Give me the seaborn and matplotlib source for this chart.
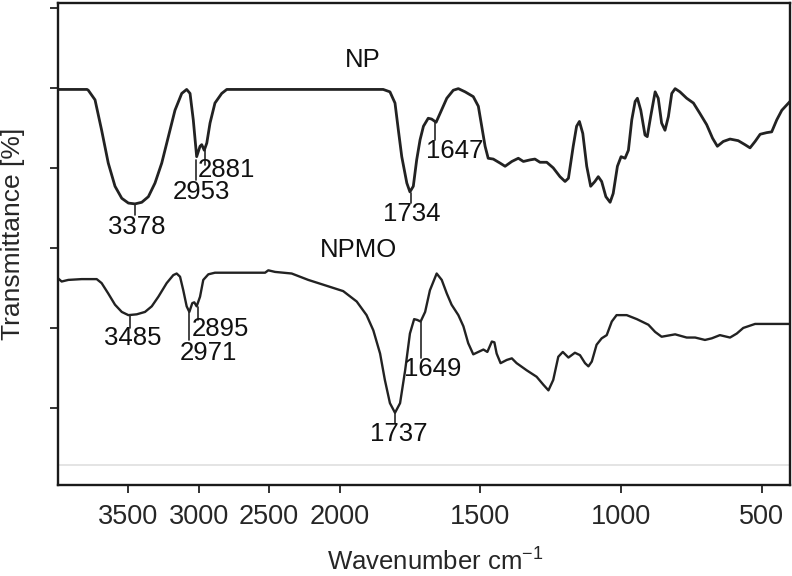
import numpy as np
import pandas as pd
import seaborn as sns
import matplotlib.pyplot as plt

# FTIR spectra (wavenumber cm-1, transmittance in arbitrary offset units)
np_wavenumber = [4000, 3794, 3785, 3737, 3690, 3643, 3595, 3547, 3500, 3453, 3405, 3358,
                 3311, 3263, 3216, 3169, 3121, 3086, 3062, 3039, 3015, 2991, 2979, 2961,
                 2943, 2920, 2885, 2837, 2801, 2600, 2400, 2200, 2000, 1845, 1821, 1803,
                 1791, 1779, 1761, 1750, 1738, 1726, 1714, 1702, 1685, 1673, 1657, 1643,
                 1619, 1596, 1578, 1554, 1525, 1507, 1495, 1483, 1472, 1454, 1430, 1412,
                 1388, 1365, 1347, 1323, 1306, 1288, 1264, 1241, 1217, 1199, 1187, 1170,
                 1158, 1148, 1136, 1122, 1108, 1093, 1081, 1069, 1054, 1039, 1028, 1013,
                 1000, 986, 974, 962, 950, 942, 930, 915, 907, 895, 879, 868, 856, 844,
                 832, 820, 808, 791, 767, 743, 720, 696, 675, 658, 637, 613, 584, 560,
                 542, 524, 506, 483, 465, 447, 429, 400]
np_transmittance = [4.98, 4.98, 4.97, 4.85, 4.47, 4.06, 3.77, 3.62, 3.56, 3.55, 3.57, 3.64,
                    3.81, 4.06, 4.39, 4.72, 4.93, 4.98, 4.93, 4.60, 4.14, 4.27, 4.29, 4.22,
                    4.31, 4.56, 4.81, 4.93, 4.98, 4.98, 4.98, 4.98, 4.98, 4.98, 4.95, 4.81,
                    4.47, 4.14, 3.81, 3.70, 3.77, 4.10, 4.35, 4.52, 4.62, 4.61, 4.57, 4.68,
                    4.87, 4.97, 4.99, 4.95, 4.89, 4.77, 4.52, 4.27, 4.12, 4.11, 4.06, 4.02,
                    4.08, 4.12, 4.08, 4.10, 4.11, 4.07, 4.07, 4.00, 3.89, 3.83, 3.87, 4.27,
                    4.52, 4.58, 4.43, 4.02, 3.77, 3.83, 3.89, 3.83, 3.64, 3.57, 3.68, 4.02,
                    4.14, 4.12, 4.22, 4.60, 4.83, 4.87, 4.72, 4.41, 4.39, 4.64, 4.95, 4.87,
                    4.56, 4.47, 4.64, 4.93, 4.99, 4.95, 4.87, 4.81, 4.68, 4.54, 4.37, 4.27,
                    4.33, 4.36, 4.34, 4.29, 4.25, 4.33, 4.42, 4.44, 4.45, 4.60, 4.72, 4.83]

npmo_wavenumber = [4000, 3974, 3927, 3832, 3725, 3690, 3643, 3595, 3547, 3500, 3441, 3382,
                   3334, 3287, 3228, 3181, 3157, 3133, 3110, 3086, 3067, 3046, 3032, 3015,
                   2991, 2968, 2932, 2885, 2700, 2529, 2506, 2458, 2340, 2222, 2080, 1987,
                   1939, 1904, 1880, 1856, 1839, 1821, 1803, 1785, 1767, 1750, 1735, 1724,
                   1712, 1696, 1679, 1655, 1637, 1619, 1602, 1578, 1560, 1543, 1525, 1507,
                   1489, 1475, 1459, 1450, 1442, 1428, 1406, 1388, 1371, 1335, 1300, 1276,
                   1258, 1241, 1223, 1207, 1187, 1164, 1146, 1128, 1116, 1104, 1087, 1069,
                   1051, 1033, 1016, 980, 944, 903, 879, 856, 808, 767, 737, 702, 678, 649,
                   613, 589, 566, 524, 406, 400]
npmo_transmittance = [2.62, 2.58, 2.60, 2.61, 2.61, 2.56, 2.43, 2.29, 2.20, 2.16, 2.17, 2.20,
                      2.27, 2.39, 2.56, 2.66, 2.68, 2.64, 2.47, 2.27, 2.20, 2.31, 2.32, 2.27,
                      2.39, 2.60, 2.67, 2.69, 2.69, 2.69, 2.72, 2.70, 2.68, 2.60, 2.52, 2.46,
                      2.33, 2.16, 1.97, 1.68, 1.35, 1.06, 0.94, 1.06, 1.47, 1.93, 2.11, 2.10,
                      2.08, 2.20, 2.47, 2.68, 2.60, 2.43, 2.29, 2.16, 2.02, 1.81, 1.67, 1.70,
                      1.73, 1.70, 1.83, 1.82, 1.68, 1.56, 1.60, 1.62, 1.56, 1.47, 1.39, 1.29,
                      1.22, 1.35, 1.64, 1.70, 1.63, 1.69, 1.66, 1.56, 1.52, 1.58, 1.79, 1.87,
                      1.91, 2.08, 2.16, 2.16, 2.11, 2.04, 1.95, 1.89, 1.92, 1.88, 1.88, 1.85,
                      1.87, 1.91, 1.88, 1.93, 2.00, 2.05, 2.05, 2.05]

# peak labels: text, marker x, marker top, marker bottom, label x, label y
peak_labels = [
    ("3378", 3453, 3.55, 3.41, 3439, 3.26),
    ("2953", 3019, 4.10, 3.85, 2984, 3.70),
    ("2881", 2956, 4.22, 4.04, 2806, 3.97),
    ("1734", 1746, 3.69, 3.56, 1743, 3.42),
    ("1647", 1661, 4.57, 4.35, 1590, 4.21),
    ("3485", 3488, 2.16, 2.00, 3467, 1.87),
    ("2971", 3069, 2.20, 1.85, 2934, 1.69),
    ("2895", 3005, 2.26, 2.10, 2849, 1.99),
    ("1649", 1711, 2.07, 1.62, 1668, 1.49),
    ("1737", 1803, 0.94, 0.81, 1789, 0.67),
]
series_labels = [("NP", 1917, 5.35), ("NPMO", 1934, 2.97)]
x_ticks = [3500, 3000, 2500, 2000, 1500, 1000, 500]
y_ticks = [1, 2, 3, 4, 5, 6]


def fwd(w):
    w = np.asarray(w, dtype=float)
    return np.where(w > 2000, 2000 + (w - 2000) / 2, w)


def inv(u):
    u = np.asarray(u, dtype=float)
    return np.where(u > 2000, 2000 + 2 * (u - 2000), u)


sns.set_theme(style='ticks')
plt.rcParams['font.family'] = ['Liberation Sans', 'DejaVu Sans']
plt.rcParams['mathtext.fontset'] = 'custom'
plt.rcParams['mathtext.rm'] = 'Liberation Sans'

fig = plt.figure(figsize=(7.92, 5.76), dpi=100)
ax = fig.add_axes([58 / 792, 91 / 576, 732 / 792, 482 / 576])

df_np = pd.DataFrame({'w': np_wavenumber, 't': np_transmittance})
df_npmo = pd.DataFrame({'w': npmo_wavenumber, 't': npmo_transmittance})
line_kw = dict(color='#222222', estimator=None, solid_joinstyle='round', solid_capstyle='round')
sns.lineplot(data=df_np, x='w', y='t', ax=ax, lw=2.0, **line_kw)
sns.lineplot(data=df_npmo, x='w', y='t', ax=ax, lw=1.7, **line_kw)

ax.axhline(0.29, color='#e2e2e2', lw=1.3)

for text, mx, top, bottom, lx, ly in peak_labels:
    ax.plot([mx, mx], [top, bottom], color='#262626', lw=1.2)
    ax.text(lx, ly, text, ha='center', va='center', fontsize=18.5, color='#111111')
for text, lx, ly in series_labels:
    ax.text(lx, ly, text, ha='center', va='center', fontsize=18.5, color='#111111')

ax.set_xscale('function', functions=(fwd, inv))
ax.set_xlim(4000, 400)
ax.set_ylim(0.0375, 6.06)
ax.set_xticks(x_ticks)
ax.set_xticklabels([str(t) for t in x_ticks])
ax.set_yticks(y_ticks)
ax.set_yticklabels([])
ax.minorticks_off()
ax.tick_params(axis='both', direction='out', length=6, width=1.3, color='#222222',
               labelsize=19.5, pad=8)

for side in ['top', 'right', 'bottom', 'left']:
    ax.spines[side].set_visible(True)
    ax.spines[side].set_linewidth(1.7)
    ax.spines[side].set_color('#1a1a1a')

ax.set_xlabel(r'Wavenumber cm$^{\mathregular{-1}}$', fontsize=18.5)
ax.set_ylabel('Transmittance [%]', fontsize=19)
ax.xaxis.set_label_coords(0.516, -0.128)
ax.yaxis.set_label_coords(-0.045, 0.52)

fig.savefig('out.png', dpi=100)
